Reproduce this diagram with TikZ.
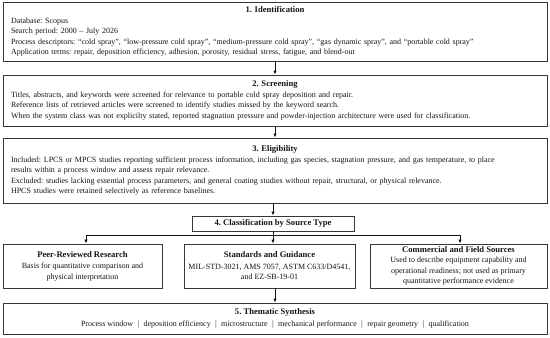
\documentclass[tikz,border=0pt]{standalone}
\usepackage{fontspec}
\setmainfont{Liberation Serif}
\usepackage{xcolor}
\usepackage{tikz}
\usetikzlibrary{arrows.meta,positioning,calc}
\definecolor{boxline}{RGB}{55,55,55}
\definecolor{flowink}{RGB}{20,20,20}
\frenchspacing

\begin{document}
\begin{tikzpicture}[x=1pt,y=-1pt,
wide/.style={draw=boxline, line width=0.9pt, text width=528pt, align=left, inner xsep=8pt, inner ysep=2pt,
font=\fontsize{8}{10.5}\selectfont, text=flowink},
small/.style={draw=boxline, line width=0.9pt, align=center, inner sep=2pt,
font=\fontsize{8}{10.5}\selectfont, text=flowink},
ttl/.style={font=\fontsize{8.6}{10.5}\selectfont\bfseries},
arrow/.style={-{Latex[length=4pt,width=3.4pt]}, line width=0.8pt, draw=flowink}
]
\useasboundingbox (0,0) rectangle (550,338);

\node[wide, minimum height=59pt] (ident) at (275,31.5)
{{\centering\fontsize{8.6}{10.5}\selectfont\bfseries 1. Identification\par}
Database: Scopus\\
Search period: 2000 -- July 2026\\
Process descriptors: ``cold spray'', ``low-pressure cold spray'', ``medium-pressure cold spray'', ``gas dynamic spray'', and ``portable cold spray''\\
Application terms: repair, deposition efficiency, adhesion, porosity, residual stress, fatigue, and blend-out};

\node[wide, minimum height=51pt] (screen) at (275,100.5)
{{\centering\fontsize{8.6}{10.5}\selectfont\bfseries 2. Screening\par}
Titles, abstracts, and keywords were screened for relevance to portable cold spray deposition and repair.\\
Reference lists of retrieved articles were screened to identify studies missed by the keyword search.\\
When the system class was not explicilty stated, reported stagnation pressure and powder-injection architecture were used for classification.};

\node[wide, minimum height=65pt] (elig) at (275,170.5)
{{\centering\fontsize{8.6}{10.5}\selectfont\bfseries 3. Eligibility\par}
Included: LPCS or MPCS studies reporting sufficient process information, including gas species, stagnation pressure, and gas temperature, to place\\
results within a process window and assess repair relevance.\\
Excluded: studies lacking essential process parameters, and general coating studies without repair, structural, or physical relevance.\\
HPCS studies were retained selectively as reference baselines.};

\node[small, ttl, minimum width=162pt, minimum height=15pt] (classif) at (273,223.5) {4. Classification by Source Type};

\node[small, minimum width=159pt, minimum height=44pt] (peer) at (82.5,266)
{{\fontsize{8.6}{10.5}\selectfont\bfseries Peer-Reviewed Research}\\[1pt]
Basis for quantitative comparison and\\ physical interpretation};
\node[small, minimum width=171pt, minimum height=44pt] (std) at (269.5,266)
{{\fontsize{8.6}{10.5}\selectfont\bfseries Standards and Guidance}\\[1pt]
MIL-STD-3021, AMS 7057, ASTM C633/D4541,\\ and EZ-SB-19-01};
\node[small, minimum width=177pt, minimum height=44pt] (comm) at (458.5,266)
{{\fontsize{8.6}{10.5}\selectfont\bfseries Commercial and Field Sources}\\
Used to describe equipment capability and\\ operational readiness; not used as primary\\ quantitative performance evidence};

\node[small, minimum width=544pt, minimum height=31pt] (synth) at (275,318.5)
{{\fontsize{8.6}{10.5}\selectfont\bfseries 5. Thematic Synthesis}\\[1pt]
Process window \ $|$ \ deposition efficiency \ $|$ \ microstructure \ $|$ \ mechanical performance \ $|$ \ repair geometry \ $|$ \ qualification};

\coordinate (fork) at (classif.south |- 0,235);

\draw[arrow] (ident.south) -- (screen.north);
\draw[arrow] (screen.south) -- (elig.north);
\draw[arrow] (elig.south -| classif.north) -- (classif.north);
\draw[arrow] (classif.south) -- (classif.south |- std.north);
\draw[arrow] (fork) -| ($(peer.north)+(3.5,0)$);
\draw[arrow] (fork) -| ($(comm.north)+(1.5,0)$);
\draw[arrow] (std.south -| synth.north) -- (synth.north);

\end{tikzpicture}
\end{document}
